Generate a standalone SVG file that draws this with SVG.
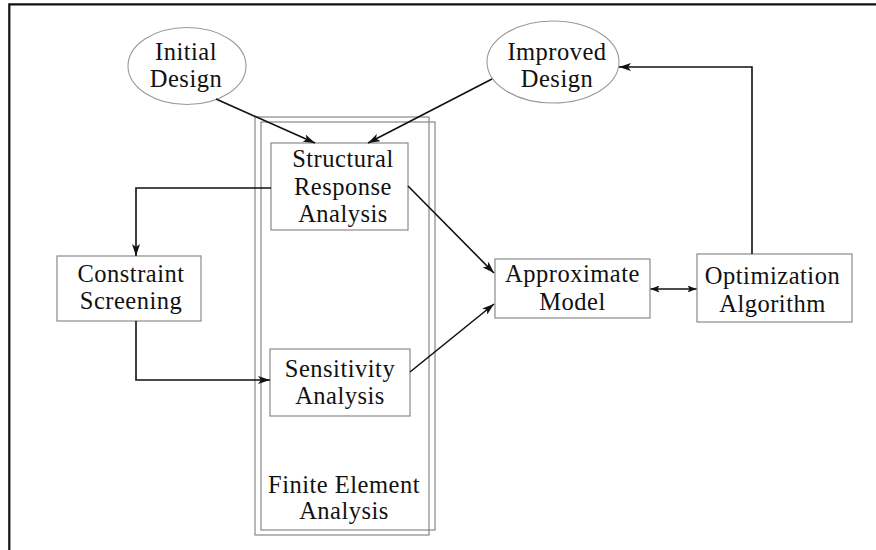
<svg xmlns="http://www.w3.org/2000/svg" width="876" height="550" viewBox="0 0 876 550">
<defs>
<marker id="ah" viewBox="0 0 12 8" refX="12" refY="4" markerWidth="12" markerHeight="8" markerUnits="userSpaceOnUse" orient="auto-start-reverse">
<path d="M0,0 L12,4 L0,8 L3,4 Z" fill="#111"/>
</marker>
<marker id="sh" viewBox="0 0 9 7" refX="9" refY="3.5" markerWidth="9" markerHeight="7" markerUnits="userSpaceOnUse" orient="auto-start-reverse">
<path d="M0,0 L9,3.5 L0,7 L2,3.5 Z" fill="#111"/>
</marker>
</defs>
<style>
text{font-family:"Liberation Serif","Times New Roman",serif;font-size:24.5px;fill:#111;text-anchor:middle;letter-spacing:0.5px}
.box{fill:#fff;stroke:#8a8a8a;stroke-width:1.2}
.ell{fill:#fff;stroke:#9a9a9a;stroke-width:1.1}
.fe{fill:none;stroke:#888;stroke-width:1.2}
.c{fill:none;stroke:#111;stroke-width:1.6}
</style>
<rect width="876" height="550" fill="#fff"/>
<path d="M9.3,550 V4.3 H876" fill="none" stroke="#111" stroke-width="2.2"/>

<g id="fea">
<rect class="fe" x="255" y="117" width="174" height="418"/>
<rect class="fe" x="261" y="122" width="174" height="408"/>
<text x="344" y="492.7">Finite Element</text>
<text x="344" y="519">Analysis</text>
</g>

<g id="initial">
<ellipse class="ell" cx="187" cy="66" rx="59" ry="38.5"/>
<text x="186" y="60">Initial</text>
<text x="186" y="87">Design</text>
</g>

<g id="improved">
<ellipse class="ell" cx="553" cy="62" rx="66" ry="41"/>
<text x="557" y="60">Improved</text>
<text x="557" y="87">Design</text>
</g>

<g id="structural">
<rect class="box" x="271" y="143" width="137" height="87"/>
<text x="343" y="166.7">Structural</text>
<text x="343" y="195">Response</text>
<text x="343" y="221.7">Analysis</text>
</g>

<g id="constraint">
<rect class="box" x="57" y="256" width="144" height="65"/>
<text x="131" y="282.3">Constraint</text>
<text x="131" y="309.3">Screening</text>
</g>

<g id="sensitivity">
<rect class="box" x="270" y="349" width="140" height="67"/>
<text x="340" y="376.7">Sensitivity</text>
<text x="340" y="404">Analysis</text>
</g>

<g id="approx">
<rect class="box" x="495" y="259" width="155" height="59"/>
<text x="572.5" y="282.3">Approximate</text>
<text x="572.5" y="310">Model</text>
</g>

<g id="optim">
<rect class="box" x="697" y="254" width="155" height="68"/>
<text x="772.5" y="284">Optimization</text>
<text x="772.5" y="311.7">Algorithm</text>
</g>

<g id="connectors">
<path class="c" d="M216,99 L315,143" marker-end="url(#ah)"/>
<path class="c" d="M492,79 L368,143" marker-end="url(#ah)"/>
<path class="c" d="M271,188 H136 V256" marker-end="url(#ah)"/>
<path class="c" d="M136,321 V380 H270" marker-end="url(#ah)"/>
<path class="c" d="M408,186 L494,273" marker-end="url(#ah)"/>
<path class="c" d="M410,372 L494,304" marker-end="url(#ah)"/>
<path class="c" d="M650.5,289 H696.5" marker-start="url(#sh)" marker-end="url(#sh)" stroke-width="1.3"/>
<path class="c" d="M752,254 V67 H619" marker-end="url(#ah)"/>
</g>
</svg>
